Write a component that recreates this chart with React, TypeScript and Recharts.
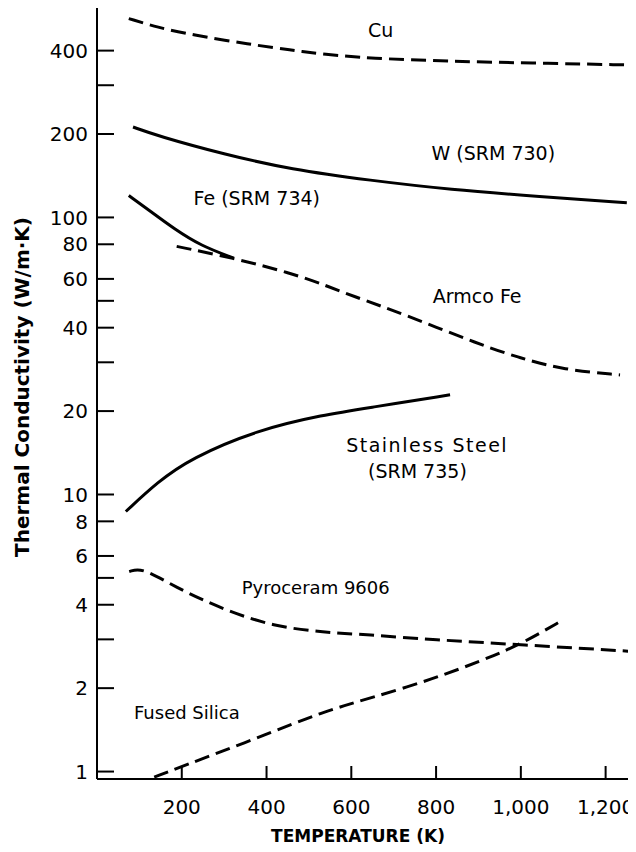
import { Line, LineChart, ReferenceDot, XAxis, YAxis } from "recharts"

// temperatures (K) and conductivities (W/m·K)
const cuT = [75, 143, 221, 362, 457, 535, 645, 830, 1020, 1257]
const cuK = [522, 485, 457, 421, 402, 388, 375, 366, 361, 355]

const wT = [85, 143, 300, 457, 645, 833, 1045, 1250]
const wK = [212, 197, 169, 149, 136, 126, 119, 113]

const feT = [75, 127, 182, 245, 323]
const feK = [120, 105, 91, 79, 71.3]

const armcoT = [188, 323, 457, 535, 605, 720, 904, 998, 1100, 1234]
const armcoK = [78.6, 71.3, 63, 57.2, 51.9, 45, 34.7, 31.1, 28.2, 27.0]

const ssT = [68, 143, 221, 378, 535, 645, 833]
const ssK = [8.68, 11.1, 13.5, 17.1, 19.4, 20.6, 22.9]

const pyroT = [76, 107, 182, 300, 417, 535, 637, 794, 998, 1271]
const pyroK = [5.27, 5.45, 4.65, 3.83, 3.34, 3.18, 3.12, 2.99, 2.87, 2.71]

const silicaT = [135, 198, 378, 535, 645, 794, 912, 998, 1100]
const silicaK = [0.955, 1.04, 1.32, 1.65, 1.84, 2.16, 2.53, 2.87, 3.53]

const xTicks = [200, 400, 600, 800, 1000, 1200]
const yTicks = [1, 2, 3, 4, 5, 6, 8, 10, 20, 30, 40, 50, 60, 80, 100, 200, 300, 400]
const yLabelled = [1, 2, 4, 6, 8, 10, 20, 40, 60, 80, 100, 200, 400]

// curve names, placed at (T, k)
const labels = [
  { text: "Cu", t: 669, k: 472 },
  { text: "W (SRM 730)", t: 935, k: 171 },
  { text: "Fe (SRM 734)", t: 377, k: 117 },
  { text: "Armco Fe", t: 897, k: 52 },
  { text: "Stainless Steel", t: 779, k: 15.1 },
  { text: "(SRM 735)", t: 756, k: 12.1 },
  { text: "Pyroceram 9606", t: 516, k: 4.6 },
  { text: "Fused Silica", t: 212, k: 1.63 },
]

const rows = (t: number[], k: number[]) => t.map((x, i) => ({ t: x, k: k[i] }))

const series = [
  { name: "Cu", data: rows(cuT, cuK), dashed: true },
  { name: "W", data: rows(wT, wK), dashed: false },
  { name: "Fe", data: rows(feT, feK), dashed: false },
  { name: "Armco", data: rows(armcoT, armcoK), dashed: true },
  { name: "SS", data: rows(ssT, ssK), dashed: false },
  { name: "Pyro", data: rows(pyroT, pyroK), dashed: true },
  { name: "Silica", data: rows(silicaT, silicaK), dashed: true },
]

const font = "'DejaVu Sans', Verdana, sans-serif"
const yDomain = [0.94, 570]

// inward tick marks drawn together with the label
const LeftTick = ({ x, y, payload }: any) => (
  <g>
    <line x1={x + 9} x2={x + 26} y1={y} y2={y} stroke="#000" strokeWidth={2} />
    {yLabelled.includes(payload.value) && (
      <text x={x} y={y} dy="0.36em" textAnchor="end" fontSize={20} fontFamily={font} fill="#000">
        {payload.value}
      </text>
    )}
  </g>
)

const RightTick = ({ x, y }: any) => <line x1={x - 17} x2={x} y1={y} y2={y} stroke="#000" strokeWidth={2} />

const BottomTick = ({ x, y, payload }: any) => (
  <g>
    <line x1={x} x2={x} y1={y} y2={y - 13} stroke="#000" strokeWidth={2} />
    <text x={x} y={y + 35} textAnchor="middle" fontSize={20} fontFamily={font} fill="#000">
      {payload.value.toLocaleString("en-US")}
    </text>
  </g>
)

export default function App() {
  return (
    <div style={{ width: 628, height: 844, overflow: "hidden", fontFamily: font }}>
      <LineChart width={700} height={844} margin={{ top: 0, right: 0, bottom: 0, left: 0 }}>
        <XAxis
          type="number"
          dataKey="t"
          domain={[0, 1300]}
          ticks={xTicks}
          interval={0}
          allowDataOverflow
          height={73}
          tickSize={0}
          tickMargin={0}
          tickLine={false}
          stroke="#000"
          strokeWidth={2}
          tick={<BottomTick />}
          label={{
            position: "insideBottom",
            content: () => (
              <text x={350} y={834} textAnchor="middle" fontSize={17} fontWeight="bold" fontFamily={font} fill="#000">
                TEMPERATURE (K)
              </text>
            ),
          }}
        />
        <YAxis
          yAxisId="left"
          type="number"
          scale="log"
          domain={yDomain}
          allowDataOverflow
          ticks={yTicks}
          interval={0}
          width={89}
          tickSize={0}
          tickMargin={9}
          tickLine={false}
          stroke="#000"
          strokeWidth={2}
          tick={<LeftTick />}
          label={{
            position: "insideLeft",
            content: () => (
              <text
                x={14}
                y={379}
                transform="rotate(-90, 14, 379)"
                textAnchor="middle"
                dominantBaseline="central"
                fontSize={20}
                fontWeight="bold"
                fontFamily={font}
                fill="#000"
              >
                Thermal Conductivity (W/m·K)
              </text>
            ),
          }}
        />
        <YAxis
          yAxisId="right"
          orientation="right"
          type="number"
          scale="log"
          domain={yDomain}
          allowDataOverflow
          ticks={yTicks}
          interval={0}
          width={60}
          tickSize={0}
          tickMargin={0}
          tickLine={false}
          tick={<RightTick />}
          stroke="#000"
          strokeWidth={2}
        />
        {series.map((s) => (
          <Line
            key={s.name}
            yAxisId="left"
            data={s.data}
            dataKey="k"
            type="basis"
            stroke="#000"
            strokeWidth={3}
            strokeDasharray={s.dashed ? "15 7" : undefined}
            dot={false}
            activeDot={false}
            isAnimationActive={false}
          />
        ))}
        {labels.map((l) => (
          <ReferenceDot
            key={l.text}
            yAxisId="left"
            x={l.t}
            y={l.k}
            r={0}
            stroke="none"
            label={{
              value: l.text,
              position: "center",
              fontSize: l.text === "Fused Silica" || l.text === "Pyroceram 9606" ? 18 : 19,
              letterSpacing: l.text === "Stainless Steel" ? 1.5 : 0,
              fill: "#000",
              fontFamily: font,
            }}
          />
        ))}
      </LineChart>
    </div>
  )
}
